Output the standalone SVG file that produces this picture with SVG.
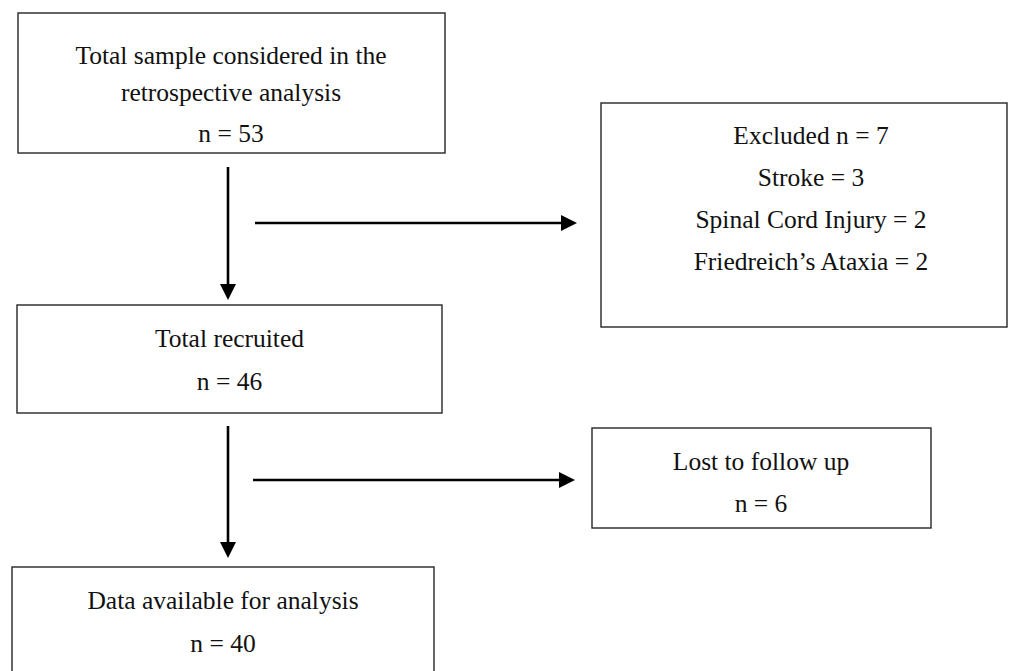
<svg xmlns="http://www.w3.org/2000/svg" width="1010" height="671" viewBox="0 0 1010 671">
<style>
.box{fill:#fff;stroke:#262626;stroke-width:1.4}
.t{font-family:"Liberation Serif","Times New Roman",serif;font-size:25.5px;fill:#111;text-anchor:middle}
.c{stroke:#000;stroke-width:2.6;fill:none;marker-end:url(#ah)}
</style>
<defs>
<marker id="ah" markerUnits="userSpaceOnUse" markerWidth="16" markerHeight="16" viewBox="0 0 16 16" refX="2" refY="8" orient="auto">
<path d="M0,0 L16,8 L0,16 z" fill="#000"/>
</marker>
</defs>
<rect width="1010" height="671" fill="#fff"/>
<g id="connectors">
<path class="c" d="M228,167 V286"/>
<path class="c" d="M255,223 H563"/>
<path class="c" d="M228,426 V544"/>
<path class="c" d="M253,480 H561"/>
</g>
<g id="total-sample">
<rect class="box" x="18" y="13" width="427" height="140"/>
<text class="t" x="231" y="64">Total sample considered in the</text>
<text class="t" x="231" y="101">retrospective analysis</text>
<text class="t" x="231" y="142">n = 53</text>
</g>
<g id="excluded">
<rect class="box" x="601" y="103" width="406" height="224"/>
<text class="t" x="811" y="144">Excluded n = 7</text>
<text class="t" x="811" y="186">Stroke = 3</text>
<text class="t" x="811" y="228">Spinal Cord Injury = 2</text>
<text class="t" x="811" y="270">Friedreich’s Ataxia = 2</text>
</g>
<g id="total-recruited">
<rect class="box" x="17" y="305" width="425" height="108"/>
<text class="t" x="229.5" y="347">Total recruited</text>
<text class="t" x="229.5" y="390">n = 46</text>
</g>
<g id="lost">
<rect class="box" x="592" y="428" width="339" height="100"/>
<text class="t" x="761" y="470">Lost to follow up</text>
<text class="t" x="761" y="512">n = 6</text>
</g>
<g id="data-available">
<rect class="box" x="12" y="567" width="422" height="120"/>
<text class="t" x="223" y="609">Data available for analysis</text>
<text class="t" x="223" y="652">n = 40</text>
</g>
</svg>
